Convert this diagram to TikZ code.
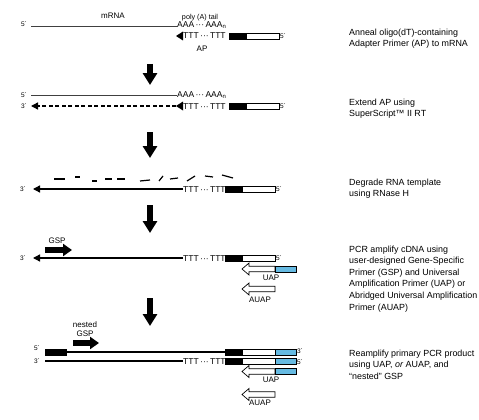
\documentclass[tikz,border=0pt]{standalone}
\usepackage{fontspec}
\setmainfont{Liberation Sans}
\usetikzlibrary{arrows.meta}
\definecolor{anchorblue}{RGB}{102,186,226}
\tikzset{
  rna/.style={line width=0.8pt, black!75},
  dna/.style={line width=1.3pt, black},
  dnaend/.style={dna, -{Triangle[length=7pt, width=7pt]}},
  stepdown/.style={line width=6pt, -{Triangle[length=12pt, width=14pt]}},
  primer/.style={line width=6pt, -{Triangle[length=9pt, width=12pt]}},
  lbl/.style={font=\fontsize{8}{9}\selectfont, inner sep=0pt},
  seq/.style={font=\fontsize{8.5}{9}\selectfont, inner sep=0pt, anchor=base west},
  endlbl/.style={font=\fontsize{6.5}{7}\selectfont, inner sep=0pt, anchor=base},
  note/.style={font=\fontsize{8.9}{11.6}\selectfont, align=left, anchor=north west, inner sep=0pt}
}
\newcommand{\polyA}{AAA\,···\,AAA\textsubscript{n}}
\newcommand{\polyT}{TTT\,···\,TTT}
\newcommand{\drawadapter}[3]{
  \draw[line width=0.6pt, fill=black] (#1,#2-3) rectangle (#1+17,#2+3);
  \draw[line width=0.6pt, fill=white] (#1+17,#2-3) rectangle (#1+50,#2+3);
  \coordinate (#3_in) at (#1,#2);
  \coordinate (#3_out) at (#1+50,#2);
}
\newcommand{\drawanchor}[3]{
  \draw[line width=0.6pt, fill=anchorblue] (#1,#2-3) rectangle (#1+21,#2+3);
  \coordinate (#3_out) at (#1+21,#2);
}
\newcommand{\drawopen}[3]{
  \draw[line width=0.7pt, fill=white] (#1,#2) -- (#1+7,#2-6) -- (#1+7,#2-2.8) -- (#1+33,#2-2.8) -- (#1+33,#2+2.8) -- (#1+7,#2+2.8) -- (#1+7,#2+6) -- cycle;
  \coordinate (#3_tip) at (#1,#2);
  \coordinate (#3_out) at (#1+33,#2);
}
\newcommand{\drawtip}[3]{
  \fill (#1,#2) -- (#1+7,#2-4.5) -- (#1+7,#2+4.5) -- cycle;
  \coordinate (#3) at (#1,#2);
}

\begin{document}
\begin{tikzpicture}[x=1pt, y=-1pt]
\useasboundingbox (0,0) rectangle (479,420);

% Step arrows
\foreach \ya/\yb in {64/85, 132/158, 205/233, 298/326}
  \draw[stepdown] (150,\ya) -- (150,\yb);

% Anneal AP
\node[lbl] (mrna_lbl) at (113,16) {mRNA};
\node[lbl, font=\fontsize{7.2}{8}\selectfont, anchor=base] (poly_lbl) at (200,20) {poly (A) tail};
\node[endlbl] (mrna1_5) at (24,27) {5´};
\node[seq] (polyA1) at (177,27.5) {\polyA};
\draw[rna] (31,26) -- (polyA1.west |- {0,26});
\drawtip{176}{36}{ap1}
\node[seq] (polyT1) at (183,39) {\polyT};
\drawadapter{229}{36}{ad1}
\node[endlbl] (ad1_5) at (283,39) {5´};
\node[lbl, anchor=base] (ap_lbl) at (202,51.5) {AP};
\node[note] (note1) at (349,28.5) {Anneal oligo(dT)-containing\\Adapter Primer (AP) to mRNA};

% Extend AP
\node[endlbl] (mrna2_5) at (24,97) {5´};
\node[seq] (polyA2) at (177,97) {\polyA};
\draw[rna] (31,95) -- (polyA2.west |- {0,95});
\node[endlbl] (cdna2_3) at (24,108.5) {3´};
\drawtip{176}{106}{ap2}
\draw[dnaend, dash pattern=on 4pt off 2.5pt] (ap2) -- (31,106);
\node[seq] (polyT2) at (183,109) {\polyT};
\drawadapter{229}{106}{ad2}
\node[endlbl] (ad2_5) at (283,108.5) {5´};
\node[note] (note2) at (349,98.5) {Extend AP using\\SuperScript™ II RT};

% Degrade RNA
\foreach \xa/\ya/\xb/\yb in {54/179/65/179, 75/177/80/177, 92/181/97/181, 105/179/112/179, 117/179/125/179, 140/181/150/180, 159/181/163/176, 170/179/178/178, 187/181/195/176, 205/176/213/177, 222/175/233/178}
  \draw[line width=1.2pt] (\xa,\ya) -- (\xb,\yb);
\node[endlbl] (cdna3_3) at (23,191.5) {3´};
\node[seq] (polyT3) at (183,192) {\polyT};
\draw[dnaend] (polyT3.west |- {0,189}) -- (33,189);
\drawadapter{225}{189}{ad3}
\node[endlbl] (ad3_5) at (279,191.5) {5´};
\node[note] (note3) at (349,178.5) {Degrade RNA template\\using RNase H};

% PCR with GSP and UAP / AUAP
\node[lbl, anchor=base] (gsp_lbl) at (57,243) {GSP};
\draw[primer] (45,250) -- (72,250);
\node[endlbl] (cdna4_3) at (23,260.5) {3´};
\node[seq] (polyT4) at (183,261) {\polyT};
\draw[dnaend] (polyT4.west |- {0,258}) -- (33,258);
\drawadapter{225}{258}{ad4}
\node[endlbl] (ad4_5) at (279,260.5) {5´};
\drawopen{242}{269}{uap4}
\drawanchor{275}{269}{uapb4}
\node[lbl, anchor=base] (uap4_lbl) at (271,280) {UAP};
\drawopen{242}{289}{auap4}
\node[lbl, anchor=base] (auap4_lbl) at (260,302.5) {AUAP};
\node[note] (note4) at (349,245.5) {PCR amplify cDNA using\\user-designed Gene-Specific\\Primer (GSP) and Universal\\Amplification Primer (UAP) or\\Abridged Universal Amplification\\Primer (AUAP)};

% Reamplify with nested GSP
\node[lbl, align=center, anchor=north] (ngsp_lbl) at (85,321) {nested\\GSP};
\draw[primer] (73,343) -- (99,343);
\node[endlbl] (top5_5) at (37,350.5) {5´};
\draw[line width=0.6pt, fill=black] (45,349) rectangle (66,355);
\draw[dna] (66,352) -- (225,352);
\drawadapter{225}{352}{ad5a}
\drawanchor{275}{352}{an5a}
\node[endlbl] (top5_3) at (300,353) {3´};
\node[endlbl] (bot5_3) at (37,363) {3´};
\node[seq] (polyT5) at (183,364) {\polyT};
\draw[dna] (45,361) -- (polyT5.west |- {0,361});
\drawadapter{225}{361}{ad5b}
\drawanchor{275}{361}{an5b}
\node[endlbl] (bot5_5) at (300,364) {5´};
\drawopen{242}{371.5}{uap5}
\drawanchor{275}{371.5}{uapb5}
\node[lbl, anchor=base] (uap5_lbl) at (271,382.5) {UAP};
\drawopen{242}{394.5}{auap5}
\node[lbl, anchor=base] (auap5_lbl) at (260,405) {AUAP};
\node[note] (note5) at (349,349.5) {Reamplify primary PCR product\\using UAP, \textit{or} AUAP, and\\“nested” GSP};

\end{tikzpicture}
\end{document}
